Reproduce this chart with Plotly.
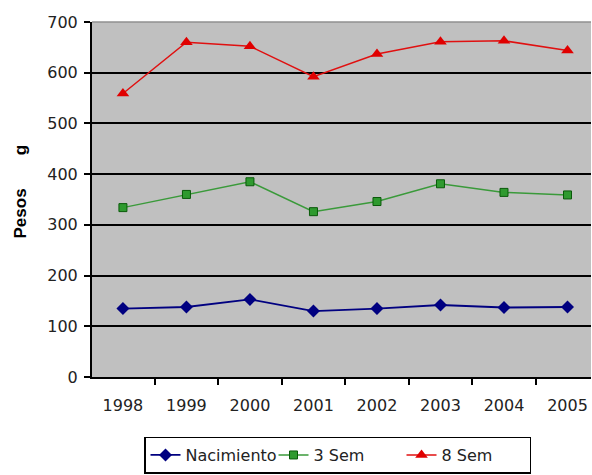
import plotly.graph_objects as go

# Birth and weaning weights (g) per year
years = ["1998", "1999", "2000", "2001", "2002", "2003", "2004", "2005"]
nacimiento = [135, 138, 153, 130, 135, 142, 137, 138]
sem3 = [334, 360, 385, 326, 346, 381, 364, 359]
sem8 = [559, 660, 652, 592, 637, 661, 663, 644]
y_ticks = [0, 100, 200, 300, 400, 500, 600, 700]

FONT = "DejaVu Sans"

fig = go.Figure()

fig.add_trace(go.Scatter(
    x=years, y=nacimiento, name="Nacimiento", mode="lines+markers",
    line=dict(color="#000080", width=1.8),
    marker=dict(symbol="diamond", size=10, color="#000080"),
))
fig.add_trace(go.Scatter(
    x=years, y=sem3, name="3 Sem", mode="lines+markers",
    line=dict(color="#3a9a3a", width=1.5),
    marker=dict(symbol="square", size=8, color="#2f9a2f",
                line=dict(color="#0a5a0a", width=1)),
))
fig.add_trace(go.Scatter(
    x=years, y=sem8, name="8 Sem", mode="lines+markers",
    line=dict(color="#e01010", width=1.5),
    marker=dict(symbol="triangle-up", size=11, color="#e00000"),
))

fig.update_layout(
    width=592, height=475,
    margin=dict(l=92, r=1, t=22, b=98),
    paper_bgcolor="white",
    plot_bgcolor="#c0c0c0",
    font=dict(family=FONT, size=16, color="#222222"),
    showlegend=True,
    legend=dict(
        orientation="h", x=0.492, xanchor="center", y=-0.272, yanchor="bottom",
        bgcolor="white", bordercolor="black", borderwidth=1.5,
        font=dict(family=FONT, size=16, color="#222222"),
        itemwidth=30, entrywidth=83, entrywidthmode="pixels",
    ),
    xaxis=dict(
        type="category", range=[-0.487, 7.37],
        tickson="boundaries", ticks="outside", ticklen=6, tickwidth=1.5,
        tickcolor="black", showline=True, linecolor="black", linewidth=2,
        showgrid=False, ticklabelstandoff=13,
    ),
    yaxis=dict(
        range=[0, 700], tickvals=y_ticks, ticks="outside", ticklen=6,
        tickwidth=1.5, tickcolor="black", showline=True, linecolor="black",
        linewidth=2, showgrid=True, gridcolor="black", gridwidth=2,
        zeroline=False, ticklabelstandoff=3,
    ),
    annotations=[dict(
        text="Pesos\u00a0\u00a0\u00a0\u00a0\u00a0\u00a0\u00a0g",
        xref="paper", yref="paper", x=(20 - 92) / 499, y=(377 - 191.5) / 355,
        xanchor="center", yanchor="middle", showarrow=False, textangle=-90,
        font=dict(family="Liberation Sans", size=17, color="black", weight="bold"),
    )],
    shapes=[dict(
        type="line", xref="paper", yref="paper", x0=0, x1=1, y0=1, y1=1,
        line=dict(color="#909090", width=1.5), layer="above",
    )],
)

fig.write_html("out.html")
